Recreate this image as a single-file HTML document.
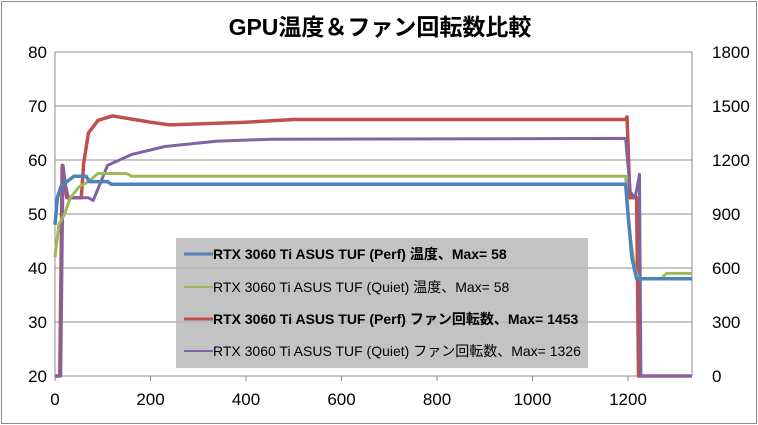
<!DOCTYPE html>
<html><head><meta charset="utf-8"><style>
body{margin:0;background:#fff}
svg{display:block;font-family:"Liberation Sans","Noto Sans CJK JP",sans-serif}
</style></head><body>
<svg width="758" height="425" viewBox="0 0 758 425">
<rect x="1.5" y="1.5" width="755" height="422" fill="#fff" stroke="#8c8c8c"/>
<text x="380" y="35" text-anchor="middle" font-size="23" font-weight="bold">GPU温度＆ファン回転数比較</text>
<g id="grid"></g><g id="axes"></g><g id="series"></g>
<g>
<rect x="176" y="238" width="412" height="130" fill="rgba(185,185,185,0.85)"/>
<g font-size="14">
<line x1="184" y1="254" x2="213" y2="254" stroke="#4f81bd" stroke-width="3"/>
<text x="213" y="259" font-weight="bold">RTX 3060 Ti ASUS TUF (Perf) 温度、Max= 58</text>
<line x1="184" y1="287" x2="213" y2="287" stroke="#9bbb59" stroke-width="2"/>
<text x="213" y="292">RTX 3060 Ti ASUS TUF (Quiet) 温度、Max= 58</text>
<line x1="184" y1="319" x2="213" y2="319" stroke="#c0504d" stroke-width="3"/>
<text x="213" y="324" font-weight="bold">RTX 3060 Ti ASUS TUF (Perf) ファン回転数、Max= 1453</text>
<line x1="184" y1="351" x2="213" y2="351" stroke="#8064a2" stroke-width="2"/>
<text x="213" y="356">RTX 3060 Ti ASUS TUF (Quiet) ファン回転数、Max= 1326</text>
</g></g>
</svg>
<script>
const xTicks=[0,200,400,600,800,1000,1200];
const yLeftTicks=[20,30,40,50,60,70,80];
const yRightTicks=[0,300,600,900,1200,1500,1800];
const perfTemp=[[0,48],[5,53],[12,55],[25,56],[40,57],[65,57],[72,56],[110,56],[118,55.5],[1195,55.5],[1200,50],[1208,42],[1218,38],[1334,38]];
const quietTemp=[[0,42],[8,48],[20,50],[32,53],[50,55],[70,56],[90,57.5],[150,57.5],[160,57],[1195,57],[1200,50],[1206,45],[1214,40],[1222,38],[1270,38],[1280,39],[1334,39]];
const perfFan=[[0,0],[10,0],[15,1170],[20,1060],[25,990],[55,990],[60,1180],[70,1350],[90,1420],[120,1445],[200,1410],[240,1395],[400,1410],[500,1425],[1195,1425],[1198,1440],[1204,990],[1218,990],[1222,0],[1334,0]];
const quietFan=[[0,0],[12,0],[17,1170],[22,1060],[28,990],[70,990],[80,975],[110,1170],[160,1230],[230,1275],[340,1305],[450,1315],[1195,1320],[1205,1020],[1215,990],[1224,1120],[1227,0],[1334,0]];
const X0=55,X1=692,Y0=376,Y1=52,XMAX=1334;
const sx=t=>X0+t*(X1-X0)/XMAX;
const syL=v=>Y0-(v-20)*(Y0-Y1)/60;
const syR=v=>Y0-v*(Y0-Y1)/1800;
const NS="http://www.w3.org/2000/svg";
function mk(tag,attrs,parent){const e=document.createElementNS(NS,tag);for(const k in attrs)e.setAttribute(k,attrs[k]);document.getElementById(parent).appendChild(e);return e;}
yLeftTicks.forEach((v,i)=>{
 const y=syL(v);
 if(i>0){const g=mk('line',{x1:X0,x2:X1,y1:y,y2:y,stroke:'#8c8c8c','stroke-width':1},'grid');
 
 }
 const t=mk('text',{x:X0-8,y:y+6,'text-anchor':'end','font-size':17},'axes');t.textContent=v;
 
 
});
yRightTicks.forEach(v=>{
 const t=mk('text',{x:X1+20,y:syR(v)+6,'text-anchor':'start','font-size':17},'axes');t.textContent=v;
 
 
});
xTicks.forEach(v=>{
 const x=sx(v);
 const l=mk('line',{x1:x,x2:x,y1:Y0,y2:Y0+5,stroke:'#8c8c8c'},'axes');
 
 
 const t=mk('text',{x:x,y:Y0+29,'text-anchor':'middle','font-size':17},'axes');t.textContent=v;
 
 
});
const ax=[[X0,Y1,X0,Y0],[X0,Y0,X1,Y0],[X1,Y1,X1,Y0]];
ax.forEach(a=>{const l=mk('line',{x1:a[0],y1:a[1],x2:a[2],y2:a[3],stroke:'#8c8c8c'},'axes');
 
 });
function series(data,sy,color,w,name){
 const p=mk('polyline',{points:data.map(d=>sx(d[0])+','+sy(d[1])).join(' '),fill:'none',stroke:color,'stroke-width':w,'stroke-linejoin':'round'},'series');
 
 
}
series(perfFan,syR,'#c0504d',3.5,'series-perf-fan');
series(quietFan,syR,'#8064a2',3,'series-quiet-fan');
series(quietTemp,syL,'#9bbb59',3,'series-quiet-temp');
series(perfTemp,syL,'#4f81bd',3.5,'series-perf-temp');
</script>
</body></html>
